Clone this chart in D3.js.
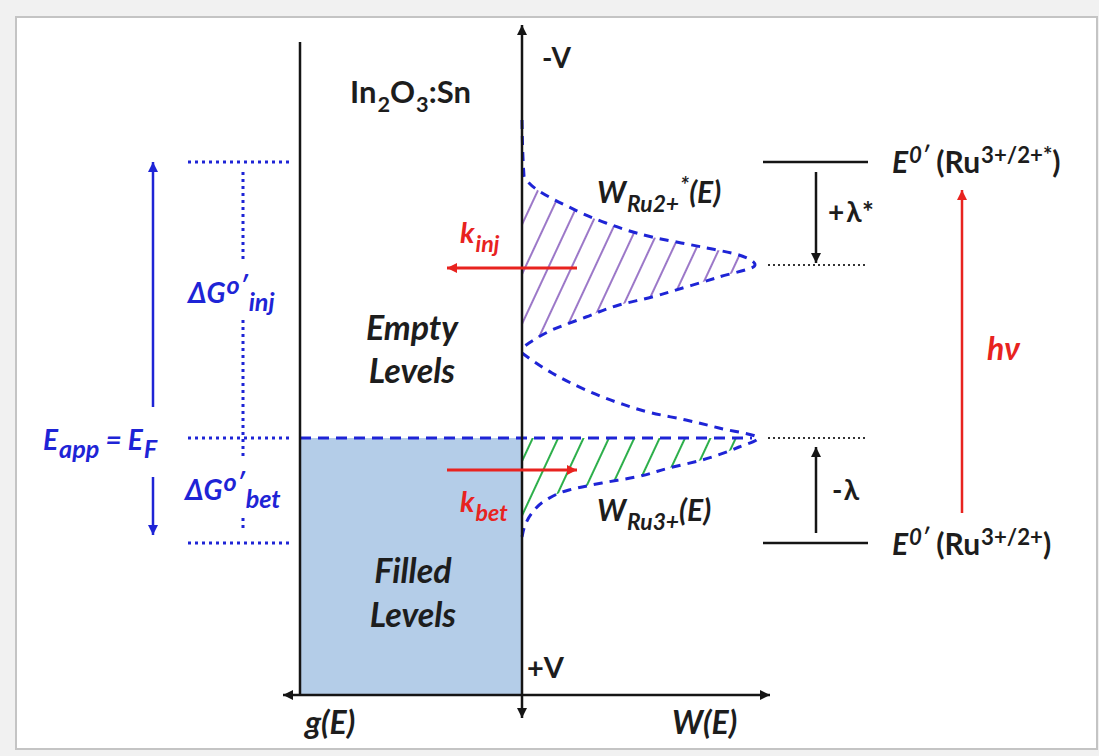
<!DOCTYPE html>
<html>
<head>
<meta charset="utf-8">
<script src="https://cdn.jsdelivr.net/npm/d3@7"></script>
<style>
  body { margin: 0; background: #f1f1f1; }
  text { font-family: Lato, "Open Sans", sans-serif; font-weight: bold; }
</style>
</head>
<body>
<svg id="chart" width="1099" height="756"></svg>
<script>
// energy in V-like units, E_F = 0, up = more negative potential
var levelE = {star: 2.76, peak2: 1.73, fermi: 0, ground: -1.05};

// W_Ru2+*(E): energy, width
var upperE = [3.18, 2.62, 2.55, 2.31, 2.15, 2.01, 1.91, 1.83, 1.73, 1.61, 1.51, 1.41, 1.33, 1.21, 1.08, 0.95, 0.90];
var upperW = [0, 0.02, 0.07, 0.47, 0.84, 1.30, 1.80, 2.17, 2.33, 1.97, 1.64, 1.30, 0.97, 0.64, 0.30, 0.07, 0];

// W_Ru3+(E)
var lowerE = [0.85, 0.65, 0.48, 0.35, 0.25, 0.18, 0.10, 0.0, -0.09, -0.22, -0.30, -0.39, -0.45, -0.52, -0.62, -0.75, -0.85, -0.99];
var lowerW = [0, 0.30, 0.64, 0.97, 1.30, 1.64, 1.97, 2.36, 2.17, 1.80, 1.47, 1.14, 0.80, 0.47, 0.24, 0.10, 0.04, 0];

// g(E) of the electrode (filled below E_F)
var gWidth = -2.22;

var svg = d3.select("#chart");

var x = d3.scaleLinear().domain([-2.22, 2.48]).range([300, 770]);
var y = d3.scaleLinear().domain([-2.8, 4.13]).range([718, 25]);

var blue = "#1e24d6", red = "#e8231f", ink = "#151515", txt = "#1d1d1d";

// frame
svg.append("rect").attr("x", 16).attr("y", 17).attr("width", 1081).attr("height", 732)
  .attr("fill", "#fff").attr("stroke", "#c4c4c4").attr("stroke-width", 2);

var defs = svg.append("defs");
function marker(id, color, w, h) {
  defs.append("marker").attr("id", id)
    .attr("viewBox", "0 0 10 10").attr("refX", 10).attr("refY", 5)
    .attr("markerUnits", "userSpaceOnUse")
    .attr("markerWidth", w).attr("markerHeight", h).attr("orient", "auto-start-reverse")
    .append("path").attr("d", "M0,0L10,5L0,10z").attr("fill", color);
}
marker("a-black", ink, 11, 10);
marker("a-blue", blue, 11, 10);
marker("a-red", red, 12, 10);

function hatch(id, color, gap) {
  var p = defs.append("pattern").attr("id", id)
    .attr("patternUnits", "userSpaceOnUse")
    .attr("width", gap).attr("height", 40)
    .attr("patternTransform", "rotate(25)");
  p.append("line").attr("x1", 1).attr("x2", 1).attr("y1", 0).attr("y2", 40)
    .attr("stroke", color).attr("stroke-width", 2);
}
hatch("h-purple", "#9c78c8", 21);
hatch("h-green", "#2daf4b", 23);

defs.append("clipPath").attr("id", "below-fermi")
  .append("rect").attr("x", x(0)).attr("y", y(levelE.fermi))
  .attr("width", 400).attr("height", 200);

// filled levels
svg.append("rect")
  .attr("x", x(gWidth)).attr("y", y(levelE.fermi))
  .attr("width", x(0) - x(gWidth)).attr("height", y(-2.57) - y(levelE.fermi))
  .attr("fill", "#b4cde8");

var line = d3.line()
  .curve(d3.curveMonotoneY)
  .x(function(d) { return x(d[1]); })
  .y(function(d) { return y(d[0]); });

var upper = d3.zip(upperE, upperW), lower = d3.zip(lowerE, lowerW);

svg.append("path").attr("d", line(upper) + "Z").attr("fill", "url(#h-purple)");
svg.append("path").attr("d", line(lower) + "Z").attr("fill", "url(#h-green)")
  .attr("clip-path", "url(#below-fermi)");

[upper, lower].forEach(function(c) {
  svg.append("path").attr("d", line(c)).attr("fill", "none")
    .attr("stroke", blue).attr("stroke-width", 3).attr("stroke-dasharray", "9,7");
});

// fermi level dashed
svg.append("line").attr("x1", x(gWidth)).attr("x2", x(2.3))
  .attr("y1", y(levelE.fermi)).attr("y2", y(levelE.fermi))
  .attr("stroke", blue).attr("stroke-width", 3).attr("stroke-dasharray", "11,7");

// axes
function seg(x1, y1, x2, y2, color, w, dash, m1, m2) {
  var l = svg.append("line").attr("x1", x(x1)).attr("y1", y(y1)).attr("x2", x(x2)).attr("y2", y(y2))
    .attr("stroke", color).attr("stroke-width", w);
  if (dash) l.attr("stroke-dasharray", dash);
  if (m1) l.attr("marker-start", "url(#" + m1 + ")");
  if (m2) l.attr("marker-end", "url(#" + m2 + ")");
  return l;
}
seg(gWidth, 3.96, gWidth, -2.57, ink, 2.5);
seg(-2.39, -2.57, 2.48, -2.57, ink, 2.5, null, "a-black", "a-black");
seg(0, -2.8, 0, 4.13, ink, 2.5, null, "a-black", "a-black");

// blue dotted guides on the left
[levelE.star, levelE.fermi, levelE.ground].forEach(function(e) {
  seg(-3.34, e, -2.30, e, blue, 3, "3,4");
});
seg(-2.79, 2.66, -2.79, 1.76, blue, 3, "3,4");
seg(-2.79, 1.18, -2.79, -0.19, blue, 3, "3,4");
seg(-2.79, -0.80, -2.79, -0.92, blue, 3, "3,4");
seg(-3.69, 0.31, -3.69, levelE.star, blue, 2.5, null, null, "a-blue");
seg(-3.69, -0.39, -3.69, -0.97, blue, 2.5, null, null, "a-blue");

// right side levels
seg(2.41, levelE.star, 3.46, levelE.star, ink, 2.5);
seg(2.41, levelE.ground, 3.46, levelE.ground, ink, 2.5);
seg(2.46, levelE.peak2, 3.46, levelE.peak2, "#333", 2, "2,3");
seg(2.46, levelE.fermi, 3.46, levelE.fermi, "#333", 2, "2,3");
seg(2.94, 2.66, 2.94, 1.75, ink, 2.5, null, null, "a-black");
seg(2.94, -0.95, 2.94, -0.09, ink, 2.5, null, null, "a-black");
seg(4.40, -0.75, 4.40, 2.48, red, 2.5, null, null, "a-red");

// transfer arrows
seg(0.55, 1.70, -0.75, 1.70, red, 3, null, null, "a-red");
seg(-0.75, -0.32, 0.55, -0.32, red, 3, null, null, "a-red");

// text helper: parts = [text, "n"|"sub"|"sup", style]
function rich(px, py, parts, size, color, italic, anchor, ratio) {
  ratio = ratio || 0.7;
  var t = svg.append("text").attr("x", px).attr("y", py)
    .attr("fill", color).style("font-size", size + "px")
    .style("font-style", italic ? "italic" : "normal")
    .attr("text-anchor", anchor || "start");
  var shift = 0;
  parts.forEach(function(p) {
    var k = p[1] || "n";
    var target = k == "sub" ? size * 0.3 : k == "sup" ? -size * 0.33 : 0;
    var s = t.append("tspan").text(p[0]).attr("dy", target - shift);
    if (k != "n") s.style("font-size", (size * ratio) + "px").attr("dx", 1);
    if (p[2]) s.style("font-style", p[2]);
    shift = target;
  });
  return t;
}

rich(x(-1.72), y(3.35), [["In"], ["2", "sub"], ["O"], ["3", "sub"], [":Sn"]], 31, txt);
rich(x(0.2), y(3.70), [["-V"]], 28, txt);
rich(x(0.05), y(-2.40), [["+V"]], 29, txt);
rich(x(-1.10), y(0.98), [["Empty"]], 34, txt, true, "middle");
rich(x(-1.10), y(0.55), [["Levels"]], 34, txt, true, "middle");
rich(x(-1.09), y(-1.45), [["Filled"]], 34, txt, true, "middle");
rich(x(-1.09), y(-1.89), [["Levels"]], 34, txt, true, "middle");
rich(x(-2.17), y(-2.96), [["g(E)"]], 32, txt, true);
rich(x(1.50), y(-2.96), [["W(E)"]], 32, txt, true);

rich(x(0.75), y(2.35), [["W"], ["Ru2+", "sub"], ["*", "sup"], ["(E)"]], 30, txt, true, null, 0.76);
rich(x(0.75), y(-0.83), [["W"], ["Ru3+", "sub"], ["(E)"]], 30, txt, true, null, 0.76);

rich(x(-0.62), y(1.95), [["k"], ["inj", "sub"]], 29, red, true, null, 0.8);
rich(x(-0.62), y(-0.74), [["k"], ["bet", "sub"]], 29, red, true, null, 0.8);

rich(x(3.06), y(2.16), [["+λ*"]], 28, txt).style("letter-spacing", "2px");
rich(x(3.10), y(-0.62), [["-λ"]], 28, txt).style("letter-spacing", "2px");
rich(x(4.65), y(0.78), [["hν"]], 32, red, true);

rich(x(3.70), y(2.65), [["E", "n", "italic"], ["0′", "sup", "italic"], [" (Ru"], ["3+/2+*", "sup"], [")"]], 30, txt, null, null, 0.74);
rich(x(3.70), y(-1.17), [["E", "n", "italic"], ["0′", "sup", "italic"], [" (Ru"], ["3+/2+", "sup"], [")"]], 30, txt, null, null, 0.74);

rich(x(-3.34), y(1.35), [["ΔG"], ["o′", "sup"], ["inj", "sub"]], 28, blue, true, null, 0.9);
rich(x(-3.37), y(-0.62), [["ΔG"], ["o′", "sup"], ["bet", "sub"]], 28, blue, true, null, 0.9);
rich(x(-4.79), y(-0.12), [["E"], ["app", "sub"], [" = E"], ["F", "sub"]], 28, blue, true, null, 0.9);
</script>
</body>
</html>
